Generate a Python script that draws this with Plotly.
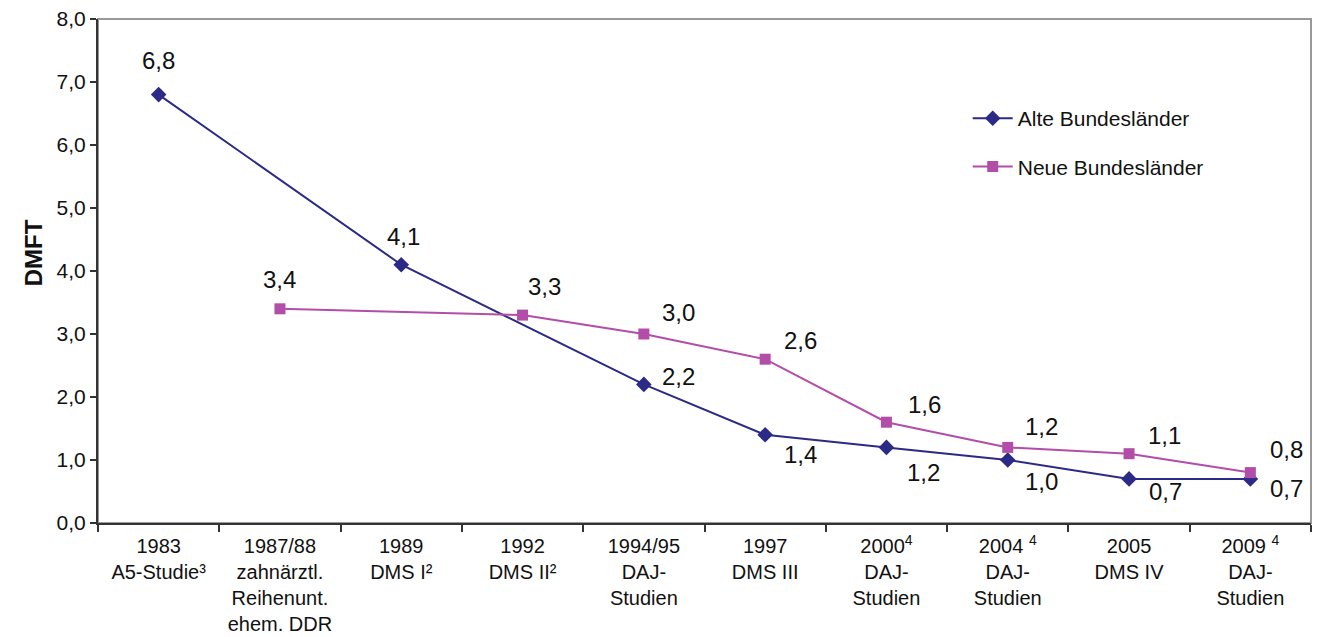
import plotly.graph_objects as go

# Study categories (x axis) and DMFT values per region
categories = [
    "1983<br>A5-Studie³",
    "1987/88<br>zahnärztl.<br>Reihenunt.<br>ehem. DDR",
    "1989<br>DMS I²",
    "1992<br>DMS II²",
    "1994/95<br>DAJ-<br>Studien",
    "1997<br>DMS III",
    "2000<sup>4</sup><br>DAJ-<br>Studien",
    "2004 <sup>4</sup><br>DAJ-<br>Studien",
    "2005<br>DMS IV",
    "2009 <sup>4</sup><br>DAJ-<br>Studien",
]
alte = [6.8, None, 4.1, None, 2.2, 1.4, 1.2, 1.0, 0.7, 0.7]
neue = [None, 3.4, None, 3.3, 3.0, 2.6, 1.6, 1.2, 1.1, 0.8]

# Label offsets in pixels (dx, dy) for each value label
alte_offsets = [(0, 34), None, (2, 28), None, (35, 8), (35, -20), (37, -25), (34, -21), (36, -13), (36, -10)]
neue_offsets = [None, (0, 29), None, (22, 29), (35, 22), (35, 19), (38, 18), (34, 21), (35, 18), (36, 23)]

ALTE_COLOR = "#2B2A86"
NEUE_COLOR = "#B24DA8"
FONT = "Liberation Sans, Arial, sans-serif"

fig = go.Figure()
fig.add_trace(go.Scatter(
    x=categories, y=alte, name="Alte Bundesländer", mode="lines+markers",
    connectgaps=True, legendgroup="a",
    line=dict(color=ALTE_COLOR, width=2),
    marker=dict(symbol="diamond", size=12, color=ALTE_COLOR),
))
fig.add_trace(go.Scatter(
    x=categories, y=neue, name="Neue Bundesländer", mode="lines+markers",
    connectgaps=True, legendgroup="n",
    line=dict(color=NEUE_COLOR, width=2),
    marker=dict(symbol="square", size=11, color=NEUE_COLOR),
))


def fmt(v):
    return f"{v:.1f}".replace(".", ",")


annotations = []
for values, offsets in ((alte, alte_offsets), (neue, neue_offsets)):
    for cat, v, off in zip(categories, values, offsets):
        if v is None:
            continue
        annotations.append(dict(
            x=cat, y=v, text=fmt(v), showarrow=False,
            xshift=off[0], yshift=off[1],
            font=dict(family=FONT, size=24, color="#111111"),
        ))

# DMFT axis title
annotations.append(dict(
    x=-0.066, y=0.536, xref="paper", yref="paper", text="<b>DMFT</b>",
    textangle=-90, showarrow=False,
    font=dict(family=FONT, size=24, color="#111111"),
))

fig.update_layout(
    width=1317, height=637,
    margin=dict(l=98, r=6, t=19, b=114),
    paper_bgcolor="white", plot_bgcolor="white",
    separators=",.",
    font=dict(family=FONT, color="#111111"),
    showlegend=True,
    legend=dict(
        x=0.717, y=0.843, xanchor="left", yanchor="top",
        font=dict(family=FONT, size=21, color="#111111"),
        bgcolor="rgba(0,0,0,0)", tracegroupgap=18,
        traceorder="grouped", itemwidth=40,
    ),
    annotations=annotations,
    shapes=[dict(
        type="rect", xref="paper", yref="paper", x0=0, y0=0, x1=1, y1=1,
        line=dict(color="#999999", width=2), layer="below",
    )],
)

fig.update_xaxes(
    type="category", range=[-0.5, 9.5], automargin=False,
    showline=True, linecolor="#333333", linewidth=2,
    ticks="outside", ticklen=7, tickcolor="#333333", tickwidth=1.5,
    tickson="boundaries", showgrid=False, ticklabelstandoff=4,
    tickfont=dict(family=FONT, size=20, color="#111111"),
)
fig.update_yaxes(
    range=[0, 8], dtick=1, tickformat=".1f", automargin=False,
    showline=True, linecolor="#333333", linewidth=2,
    ticks="outside", ticklen=6, tickcolor="#333333", tickwidth=1.5,
    showgrid=False, zeroline=False,
    tickfont=dict(family=FONT, size=21, color="#111111"),
)

fig.write_html("out.html")
